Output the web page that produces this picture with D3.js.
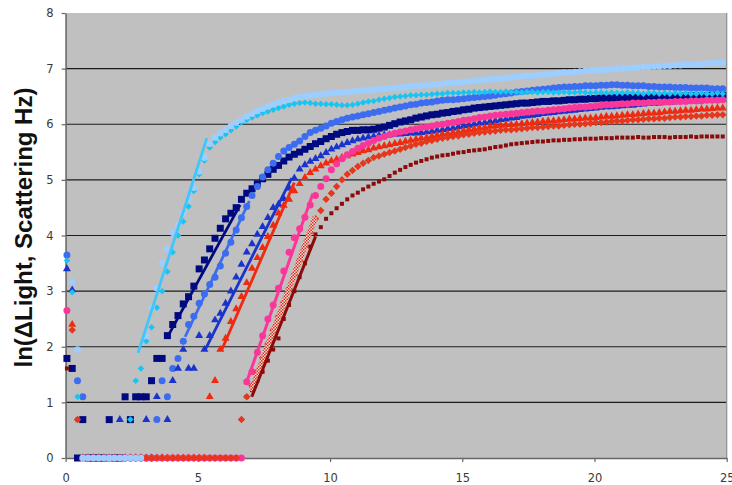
<!DOCTYPE html>
<html>
<head>
<meta charset="utf-8">
<script src="https://cdn.jsdelivr.net/npm/d3@7"></script>
<style>
  body { margin: 0; background: #ffffff; }
  svg { display: block; }
</style>
</head>
<body>
<svg id="chart" width="732" height="485">
  <defs>
    <pattern id="hatch" patternUnits="userSpaceOnUse" width="3" height="3">
      <rect width="3" height="3" fill="#f6dcd6"></rect>
      <rect width="1.5" height="1.5" fill="#d2301c"></rect>
      <rect x="1.5" y="1.5" width="1.5" height="1.5" fill="#d2301c"></rect>
    </pattern>
  </defs>
</svg>
<script>
// Sampling clock shared by every run (minutes): first reading and interval
const sampleStart = 0.05;
const sampleStep = 0.2;

const xTicks = [0, 5, 10, 15, 20, 25];
const yTicks = [0, 1, 2, 3, 4, 5, 6, 7, 8];
const gridValues = [1, 2, 3, 4, 5, 6, 7];
const yTitle = "ln(\u0394Light, Scattering Hz)";

// ln(counts) per reading; null = no counts recorded
const navySquares = [
  1.79,1.61,0,0.69,0,0,0,0,0.69,0,
  0,1.10,0.69,1.10,1.10,1.10,1.39,1.79,1.79,2.20,
  2.40,2.56,2.77,2.90,3.09,3.40,3.56,3.76,3.95,4.13,
  4.30,4.40,4.50,4.65,4.76,4.84,4.93,5.02,5.10,5.19,
  5.26,5.34,5.41,5.46,5.50,5.55,5.60,5.65,5.69,5.74,
  5.78,5.82,5.85,5.87,5.89,5.89,5.90,5.90,5.91,5.93,
  5.95,5.98,6.01,6.04,6.06,6.08,6.11,6.13,6.15,6.17,
  6.18,6.20,6.21,6.23,6.24,6.26,6.27,6.29,6.30,6.31,
  6.32,6.33,6.34,6.35,6.36,6.37,6.38,6.38,6.39,6.40,
  6.41,6.41,6.42,6.42,6.43,6.44,6.44,6.45,6.45,6.46,
  6.46,6.47,6.47,6.47,6.48,6.48,6.48,6.48,6.49,6.49,
  6.49,6.49,6.50,6.50,6.50,6.50,6.50,6.51,6.51,6.51,
  6.51,6.51,6.52,6.52,6.52
];
const blueCircles = [
  3.65,null,1.39,1.10,0,0,0,0,0,0,
  0,0,0,0,0,0,0,0.69,1.39,1.10,
  1.61,1.79,2.10,2.40,2.55,2.78,2.95,3.12,3.25,3.45,
  3.68,3.88,4.10,4.32,4.52,4.72,4.88,5.05,5.18,5.30,
  5.42,5.52,5.58,5.64,5.70,5.78,5.85,5.89,5.93,5.97,
  6.02,6.05,6.08,6.11,6.13,6.15,6.17,6.19,6.21,6.23,
  6.25,6.27,6.29,6.31,6.33,6.35,6.36,6.38,6.39,6.40,
  6.42,6.43,6.44,6.44,6.45,6.46,6.47,6.48,6.49,6.50,
  6.51,6.52,6.54,6.55,6.56,6.58,6.59,6.60,6.61,6.62,
  6.63,6.64,6.65,6.66,6.67,6.67,6.68,6.68,6.69,6.69,
  6.69,6.70,6.70,6.71,6.71,6.70,6.70,6.69,6.69,6.69,
  6.68,6.68,6.67,6.67,6.67,6.66,6.66,6.66,6.65,6.65,
  6.65,6.65,6.64,6.64,6.64
];
const blueTriangles = [
  3.40,3.02,null,0,0,0,0,0,0,0,
  0.69,0,0,0,0,0.69,0,1.10,0,0.69,
  1.39,1.61,1.95,1.61,1.61,2.20,1.95,2.20,2.48,2.60,
  2.78,3.00,3.25,3.48,3.70,3.85,4.02,4.16,4.32,4.50,
  4.56,4.66,4.85,5.03,5.19,5.27,5.33,5.38,5.43,5.49,
  5.55,5.59,5.63,5.67,5.70,5.73,5.75,5.77,5.78,5.80,
  5.81,5.81,5.82,5.82,5.83,5.84,5.84,5.85,5.86,5.87,
  5.89,5.90,5.92,5.93,5.95,5.97,5.98,6.00,6.02,6.03,
  6.05,6.06,6.08,6.09,6.11,6.12,6.14,6.15,6.16,6.17,
  6.19,6.20,6.21,6.22,6.23,6.24,6.25,6.26,6.27,6.28,
  6.29,6.30,6.31,6.31,6.32,6.33,6.34,6.34,6.35,6.36,
  6.37,6.37,6.38,6.39,6.39,6.40,6.41,6.41,6.42,6.43,
  6.43,6.44,6.44,6.45,6.45
];
const darkRedSquares = [
  1.61,null,0.69,0,0,0,0,0,0,0,
  0,0,0,0,0,0,0,0,0,0,
  0,0,0,0,0,0,0,0,0,0,
  0,0,0,0,1.10,1.22,1.39,1.55,1.75,1.95,
  2.15,2.50,2.75,3.00,3.25,3.50,3.80,4.02,4.15,4.30,
  4.40,4.49,4.57,4.65,4.72,4.77,4.83,4.88,4.93,4.97,
  5.01,5.07,5.13,5.18,5.23,5.27,5.31,5.34,5.37,5.40,
  5.42,5.44,5.45,5.47,5.49,5.50,5.52,5.53,5.54,5.55,
  5.57,5.59,5.60,5.62,5.64,5.65,5.66,5.67,5.68,5.69,
  5.69,5.70,5.71,5.71,5.72,5.72,5.73,5.73,5.74,5.74,
  5.74,5.75,5.75,5.75,5.76,5.76,5.76,5.76,5.77,5.76,
  5.76,5.77,5.77,5.77,5.76,5.77,5.77,5.77,5.78,5.77,
  5.78,5.78,5.78,5.78,5.78
];
const redTriangles = [
  null,2.40,null,0,0,0,0,0,0,0,
  0,0,0,0,0,0,0,0,0,0,
  0,0,0,0,0,0,0,1.10,1.39,1.95,
  2.15,2.45,2.68,2.90,3.15,3.41,3.60,3.78,3.98,4.18,
  4.40,4.54,4.65,4.80,4.93,5.04,5.13,5.19,5.25,5.30,
  5.34,5.37,5.40,5.43,5.46,5.49,5.52,5.54,5.57,5.59,
  5.61,5.63,5.65,5.67,5.69,5.71,5.73,5.75,5.76,5.78,
  5.80,5.82,5.83,5.85,5.86,5.88,5.90,5.91,5.93,5.94,
  5.96,5.97,5.98,5.99,5.99,6.00,6.01,6.02,6.03,6.04,
  6.05,6.06,6.06,6.07,6.08,6.09,6.09,6.10,6.11,6.11,
  6.12,6.13,6.14,6.14,6.15,6.16,6.17,6.17,6.18,6.19,
  6.20,6.20,6.21,6.22,6.23,6.23,6.24,6.25,6.25,6.26,
  6.27,6.27,6.28,6.29,6.29
];
const pinkCircles = [
  2.65,null,null,0,0,0,0,0,0,0,
  0,0,0,0,0,0,0,0,0,0,
  0,0,0,0,0,0,0,0,0,0,
  0,0,0,0,1.37,1.55,1.90,2.20,2.50,2.75,
  3.05,3.36,3.70,3.96,4.12,4.33,4.55,4.72,4.88,5.02,
  5.18,5.29,5.38,5.45,5.51,5.57,5.62,5.66,5.71,5.75,
  5.78,5.81,5.84,5.86,5.88,5.90,5.92,5.94,5.95,5.97,
  5.99,6.00,6.02,6.03,6.05,6.07,6.08,6.10,6.12,6.13,
  6.15,6.16,6.17,6.18,6.19,6.20,6.21,6.22,6.23,6.24,
  6.24,6.25,6.26,6.27,6.28,6.29,6.30,6.31,6.31,6.32,
  6.33,6.34,6.35,6.35,6.36,6.37,6.37,6.38,6.38,6.38,
  6.39,6.39,6.40,6.40,6.40,6.41,6.41,6.41,6.42,6.42,
  6.42,6.43,6.43,6.43,6.44
];
const redDiamonds = [
  null,2.30,0.69,0,0,0,0,0,0,0,
  0,0,0,0,0,0,0,0,0,0,
  0,0,0,0,0,0,0,0,0,0,
  0,0,0,0.69,1.10,1.30,1.55,1.80,2.05,2.30,
  2.55,2.80,3.05,3.30,3.55,3.80,4.05,4.30,4.45,4.65,
  4.76,4.88,5.00,5.10,5.17,5.24,5.30,5.35,5.40,5.43,
  5.46,5.49,5.52,5.55,5.58,5.61,5.64,5.66,5.69,5.71,
  5.73,5.75,5.76,5.78,5.79,5.81,5.82,5.84,5.85,5.86,
  5.87,5.88,5.89,5.90,5.90,5.91,5.92,5.93,5.94,5.94,
  5.95,5.96,5.97,5.97,5.98,5.99,6.00,6.00,6.01,6.02,
  6.03,6.03,6.04,6.05,6.06,6.06,6.07,6.08,6.08,6.09,
  6.10,6.10,6.11,6.11,6.12,6.13,6.13,6.14,6.14,6.15,
  6.15,6.16,6.16,6.17,6.17
];
const cyanDiamonds = [
  3.55,2.98,1.10,0,0,0,0,0,0,0,
  0,0,0.69,1.39,1.61,2.10,2.35,2.70,3.00,3.35,
  3.70,4.00,4.25,4.52,4.80,5.10,5.35,5.58,5.68,5.76,
  5.82,5.89,5.96,6.03,6.08,6.12,6.16,6.20,6.23,6.26,
  6.29,6.32,6.35,6.37,6.38,6.39,6.38,6.37,6.37,6.36,
  6.36,6.35,6.34,6.34,6.35,6.37,6.39,6.41,6.42,6.44,
  6.46,6.47,6.49,6.50,6.51,6.52,6.52,6.53,6.53,6.54,
  6.55,6.55,6.56,6.56,6.56,6.57,6.57,6.58,6.57,6.58,
  6.59,6.58,6.58,6.59,6.58,6.58,6.57,6.58,6.58,6.57,
  6.58,6.58,6.57,6.57,6.58,6.57,6.57,6.58,6.57,6.56,
  6.57,6.57,6.56,6.57,6.56,6.56,6.57,6.56,6.56,6.55,
  6.56,6.56,6.55,6.56,6.55,6.56,6.55,6.56,6.55,6.55,
  6.56,6.55,6.55,6.56,6.55
];
const skyCircles = [
  null,3.17,1.95,0,0,0,0,0,0,0,
  0,0,0,0,0,2.20,2.70,3.05,3.50,3.75,
  4.05,4.18,4.40,4.65,4.86,5.15,5.40,5.65,5.76,5.84,
  5.90,5.97,6.03,6.08,6.14,6.19,6.24,6.28,6.32,6.36,
  6.39,6.42,6.44,6.47,6.49,6.50,6.52,6.53,6.54,6.55,
  6.56,6.57,6.57,6.58,6.59,6.60,6.61,6.61,6.62,6.63,
  6.64,6.64,6.65,6.66,6.67,6.68,6.69,6.69,6.70,6.71,
  6.72,6.73,6.74,6.74,6.75,6.76,6.77,6.78,6.79,6.80,
  6.81,6.81,6.82,6.83,6.84,6.85,6.86,6.87,6.87,6.88,
  6.89,6.90,6.91,6.92,6.93,6.93,6.94,6.95,6.96,6.97,
  6.97,6.98,6.98,6.99,7.00,7.00,7.01,7.01,7.02,7.03,
  7.03,7.04,7.04,7.05,7.05,7.06,7.06,7.07,7.07,7.08,
  7.08,7.09,7.10,7.10,7.11
];

// Linear fits over the growth phase: [[x start, y start], [x end, y end]]
const skyFit = [[2.74, 1.89], [5.34, 5.75]];
const navyFit = [[3.88, 2.20], [6.60, 4.55]];
const blueCircleFit = [[4.52, 2.18], [6.95, 4.62]];
const blueTriangleFit = [[5.27, 1.94], [8.55, 5.03]];
const redTriangleFit = [[5.90, 1.94], [8.65, 4.95]];
const pinkFit = [[6.85, 1.37], [9.35, 4.75]];
const redDiamondFit = [[7.02, 1.20], [9.45, 4.34]];
const darkRedFit = [[7.04, 1.10], [9.45, 3.98]];

// ---- layout and scales ----
const svg = d3.select("#chart");
const x = d3.scaleLinear().domain([0, 25]).range([65.6, 726.7]);
const y = d3.scaleLinear().domain([0, 8]).range([458, 13]);

// plot area
svg.append("rect")
  .attr("x", x(0)).attr("y", y(8))
  .attr("width", x(25) - x(0)).attr("height", y(0) - y(8))
  .attr("fill", "#c0c0c0");

// horizontal gridlines
svg.append("g").selectAll("line").data(gridValues).join("line")
  .attr("x1", x(0)).attr("x2", x(25))
  .attr("y1", d => y(d)).attr("y2", d => y(d))
  .attr("stroke", "#1c1c1c").attr("stroke-width", 1.2);

// right edge of the plot area
svg.append("line")
  .attr("x1", x(25)).attr("x2", x(25)).attr("y1", y(8)).attr("y2", y(0))
  .attr("stroke", "#8e8e8e").attr("stroke-width", 1.2);

// ---- axes ----
const fmt = d3.format("d");
const gy = svg.append("g")
  .attr("transform", `translate(${x(0)},0)`)
  .call(d3.axisLeft(y).tickValues(yTicks).tickSize(4).tickSizeOuter(0).tickPadding(8).tickFormat(fmt));
const gx = svg.append("g")
  .attr("transform", `translate(0,${y(0)})`)
  .call(d3.axisBottom(x).tickValues(xTicks).tickSize(4).tickSizeOuter(0).tickPadding(12).tickFormat(fmt));

[gy, gx].forEach(g => {
  g.attr("font-family", "'DejaVu Sans', Verdana, sans-serif").attr("font-size", 11.5);
  g.select(".domain").attr("stroke", "#666666").attr("stroke-width", 1.5);
  g.selectAll(".tick line").attr("stroke", "#666666").attr("stroke-width", 1.2);
  g.selectAll(".tick text").attr("fill", "#3a3a3a");
});

// ---- series markers (later entries sit on top) ----
const seriesList = [
  { values: navySquares,    shape: "square",   size: 7,   color: "#000a80" },
  { values: blueCircles,    shape: "circle",   size: 7,   color: "#3c6cf0" },
  { values: blueTriangles,  shape: "triangle", size: 8,   color: "#1a33cc" },
  { values: darkRedSquares, shape: "square",   size: 4,   color: "#8b0a0a" },
  { values: redTriangles,   shape: "triangle", size: 8,   color: "#ee2a10" },
  { values: pinkCircles,    shape: "circle",   size: 7,   color: "#fa3799" },
  { values: redDiamonds,    shape: "diamond",  size: 7.5, color: "#e6361c" },
  { values: cyanDiamonds,   shape: "diamond",  size: 6.5, color: "#18c4f2" },
  { values: skyCircles,     shape: "circle",   size: 6.5, color: "#9cceff" }
];

function symbolPath(shape, s) {
  if (shape === "square") return d3.symbol(d3.symbolSquare, s * s)();
  if (shape === "circle") return d3.symbol(d3.symbolCircle, Math.PI * (s / 2) * (s / 2))();
  if (shape === "triangle") return d3.symbol(d3.symbolTriangle, s * s * Math.sqrt(3) / 4)();
  return d3.symbol(d3.symbolSquare, s * s / 2)(); // diamond = square turned 45°
}

const markerLayer = svg.append("g");
seriesList.forEach(sr => {
  const pts = sr.values
    .map((v, i) => ({ t: sampleStart + sampleStep * i, v }))
    .filter(d => d.v !== null);
  const path = symbolPath(sr.shape, sr.size);
  const rot = sr.shape === "diamond" ? " rotate(45)" : "";
  markerLayer.append("g").selectAll("path").data(pts).join("path")
    .attr("d", path)
    .attr("transform", d => `translate(${x(d.t)},${y(d.v)})${rot}`)
    .attr("fill", sr.color);
});

// ---- fitted lines ----
const fits = [
  { pts: redDiamondFit,   color: "url(#hatch)", width: 5.5 },
  { pts: darkRedFit,      color: "#8b0a0a", width: 3 },
  { pts: pinkFit,         color: "#fa3799", width: 3 },
  { pts: redTriangleFit,  color: "#ee2a10", width: 2.8 },
  { pts: blueTriangleFit, color: "#1a33cc", width: 2.8 },
  { pts: blueCircleFit,   color: "#3c6cf0", width: 2.8 },
  { pts: navyFit,         color: "#000a80", width: 2.8 },
  { pts: skyFit,          color: "#3fc6fb", width: 2.8 }
];
svg.append("g").selectAll("line").data(fits).join("line")
  .attr("x1", d => x(d.pts[0][0])).attr("y1", d => y(d.pts[0][1]))
  .attr("x2", d => x(d.pts[1][0])).attr("y2", d => y(d.pts[1][1]))
  .attr("stroke", d => d.color).attr("stroke-width", d => d.width)
  .attr("stroke-linecap", "butt");

// ---- axis title ----
svg.append("text")
  .attr("transform", "translate(31.5,227.5) rotate(-90)")
  .attr("text-anchor", "middle")
  .attr("font-family", "'Liberation Sans', Arial, sans-serif")
  .attr("font-weight", "bold")
  .attr("font-size", 24)
  .attr("fill", "#111111")
  .text(yTitle);
</script>
</body>
</html>
